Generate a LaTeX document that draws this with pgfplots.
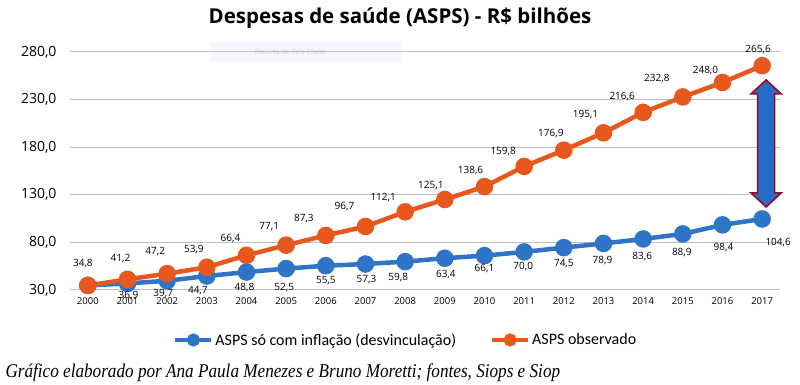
\documentclass[border=0pt]{standalone}
\usepackage{pgfplots}
\pgfplotsset{compat=1.18}
\usepackage{pgfplotstable}
\usepackage{fontspec}
\setmainfont{Open Sans}
\newfontfamily\legendfont{Carlito}
\newfontfamily\notefont[FakeStretch=0.88]{Liberation Serif}
\definecolor{bl}{RGB}{46,117,200}
\definecolor{orr}{RGB}{232,88,28}
\definecolor{arrblue}{RGB}{40,108,200}
\definecolor{arrred}{RGB}{150,12,32}

\pgfplotstableread{
x y dx dy lab
0 34.8 -5 22 34,8
1 41.2 -7 21 41,2
2 47.2 -12 22 47,2
3 53.9 -13 18 53,9
4 66.4 -16 17 66,4
5 77.1 -17 19 77,1
6 87.3 -22 17 87,3
7 96.7 -21 20 96,7
8 112.1 -22 14 112,1
9 125.1 -14 14 125,1
10 138.6 -14 16 138,6
11 159.8 -21 15 159,8
12 176.9 -13 17 176,9
13 195.1 -18 18 195,1
14 216.6 -21 16 216,6
15 232.8 -26 18 232,8
16 248.0 -17 12 248,0
17 265.6 -4 16 265,6
}\obs

\pgfplotstableread{
x y dx dy lab
0 34.8 0 -14 {}
1 36.9 1 -12 36,9
2 39.7 -4 -13 39,7
3 44.7 -9 -15 44,7
4 48.8 -2 -15 48,8
5 52.5 -2 -19 52,5
6 55.5 0 -15 55,5
7 57.3 1 -16 57,3
8 59.8 -7 -16 59,8
9 63.4 1 -16 63,4
10 66.1 0 -13 66,1
11 70.0 -1 -15 70,0
12 74.5 0 -16 74,5
13 78.9 -1 -17 78,9
14 83.6 -1 -18 83,6
15 88.9 -1 -19 88,9
16 98.4 1 -23 98,4
17 104.6 16 -24 104,6
}\infl

\begin{document}
\begin{tikzpicture}
\useasboundingbox (0pt,0pt) rectangle (800pt,385pt);
\node[font=\bfseries\fontsize{20.5}{24}\selectfont] at (400pt,367pt) {Despesas de saúde (ASPS) - R\$ bilhões};
\fill[blue!4] (210pt,323pt) rectangle (402pt,343pt);
\node[font=\fontsize{7}{8}\selectfont, text=black!18] at (290pt,333pt) {Recorte de Tela Cheia};
\begin{axis}[
  at={(70pt,95pt)}, anchor=south west, scale only axis,
  width=710pt, height=238pt,
  xmin=-0.45, xmax=17.45, ymin=30, ymax=280,
  xtick={0,...,17},
  xticklabels={2000,2001,2002,2003,2004,2005,2006,2007,2008,2009,2010,2011,2012,2013,2014,2015,2016,2017},
  ytick={30,80,130,180,230,280},
  yticklabels={{30,0},{80,0},{130,0},{180,0},{230,0},{280,0}},
  axis line style={draw=none},
  major tick length=0pt,
  ymajorgrids, grid style={line width=1pt, color=black!25},
  clip=false,
  yticklabel style={font=\fontsize{14}{16}\selectfont, xshift=-10pt},
  xticklabel style={font=\fontsize{9.5}{11}\selectfont, yshift=-4pt},
  legend style={at={(0.473,-0.21)}, anchor=center, draw=none, fill=none,
    legend columns=2, font=\legendfont\fontsize{16}{18}\selectfont,
    /tikz/every even column/.append style={column sep=32pt}, inner sep=0pt},
  legend image code/.code={\draw[mark repeat=2,mark phase=2,#1,line width=4pt,mark size=4.5pt] plot coordinates {(0pt,0pt) (18pt,0pt) (36pt,0pt)};},
]
\addplot[color=bl, line width=4.5pt, mark=*, mark size=6.5pt, mark options={draw=none, fill=bl}] table[x=x,y=y] {\infl};
\addlegendentry{ASPS só com inflação (desvinculação)}
\addplot[color=orr, line width=4.5pt, mark=*, mark size=6.5pt, mark options={draw=none, fill=orr}] table[x=x,y=y] {\obs};
\addlegendentry{ASPS observado}

\addplot[forget plot, draw=none, mark=none, point meta=explicit symbolic,
  visualization depends on={\thisrow{dx} \as \lblx},
  visualization depends on={\thisrow{dy} \as \lbly},
  nodes near coords,
  nodes near coords style={anchor=center, inner sep=0pt, font=\fontsize{10}{12}\selectfont, text=black, xshift=\lblx pt, yshift=\lbly pt}]
  table[x=x,y=y,meta=lab] {\obs};
\addplot[forget plot, draw=none, mark=none, point meta=explicit symbolic,
  visualization depends on={\thisrow{dx} \as \lblx},
  visualization depends on={\thisrow{dy} \as \lbly},
  nodes near coords,
  nodes near coords style={anchor=center, inner sep=0pt, font=\fontsize{10}{12}\selectfont, text=black, xshift=\lblx pt, yshift=\lbly pt}]
  table[x=x,y=y,meta=lab] {\infl};

\draw[fill=arrblue, draw=arrred, line width=1.6pt, line join=miter]
  (axis cs:17.1,250.6) -- (axis cs:17.48,236) -- (axis cs:17.315,236) -- (axis cs:17.315,132)
  -- (axis cs:17.48,132) -- (axis cs:17.1,117.2) -- (axis cs:16.72,132) -- (axis cs:16.885,132)
  -- (axis cs:16.885,236) -- (axis cs:16.72,236) -- cycle;
\end{axis}
\node[anchor=west, font=\notefont\itshape\fontsize{19.5}{22}\selectfont] at (2pt,12pt) {Gráfico elaborado por Ana Paula Menezes e Bruno Moretti; fontes, Siops e Siop};
\end{tikzpicture}
\end{document}
